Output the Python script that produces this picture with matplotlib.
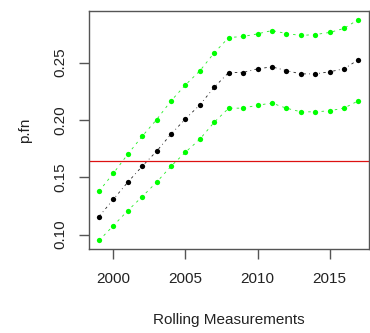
import matplotlib
matplotlib.use("Agg")
import matplotlib.pyplot as plt

years = list(range(1999, 2018))
mid = [0.1157, 0.1308, 0.1457, 0.1596, 0.1727, 0.1876, 0.2009, 0.2131, 0.2285, 0.2413,
       0.2413, 0.2445, 0.2462, 0.2430, 0.2401, 0.2401, 0.2419, 0.2445, 0.2524]
upper = [0.1378, 0.1535, 0.1701, 0.1858, 0.2003, 0.2166, 0.2305, 0.2428, 0.2585, 0.2718,
         0.2727, 0.2750, 0.2779, 0.2753, 0.2736, 0.2744, 0.2762, 0.2797, 0.2875]
lower = [0.0948, 0.1078, 0.1209, 0.1331, 0.1457, 0.1596, 0.1718, 0.1832, 0.1980, 0.2102,
         0.2102, 0.2128, 0.2146, 0.2102, 0.2070, 0.2070, 0.2079, 0.2102, 0.2166]
ref_level = 0.164
xticks = [2000, 2005, 2010, 2015]
yticks = [0.10, 0.15, 0.20, 0.25]
ytick_labels = ["0.10", "0.15", "0.20", "0.25"]

plt.rcParams['font.family'] = ['Liberation Sans', 'DejaVu Sans']

fig = plt.figure(figsize=(3.7, 3.33), dpi=100)
ax = fig.add_axes([0.2397, 0.2513, 0.9965 - 0.2397, 0.9679 - 0.2513])

ax.plot(years, upper, color='#22ee22', lw=0.6, ls=(0, (3, 5)))
ax.plot(years, lower, color='#22ee22', lw=0.6, ls=(0, (3, 5)))
ax.plot(years, mid, color='#222222', lw=0.6, ls=(0, (3, 4, 1, 4)))
ax.plot(years, upper, 'o', color='#00ff00', ms=3.8, mec='none')
ax.plot(years, lower, 'o', color='#00ff00', ms=3.8, mec='none')
ax.plot(years, mid, 'o', color='black', ms=3.8, mec='none')
ax.axhline(ref_level, color='#dd1111', lw=0.9)

span_x = years[-1] - years[0]
ax.set_xlim(years[0] - 0.04 * span_x, years[-1] + 0.04 * span_x)
lo, hi = min(lower), max(upper)
ax.set_ylim(lo - 0.04 * (hi - lo), hi + 0.04 * (hi - lo))

ax.set_xticks(xticks)
ax.set_xticklabels([str(t) for t in xticks])
ax.set_yticks(yticks)
ax.set_yticklabels(ytick_labels, rotation=90, va='center')

for s in ax.spines.values():
    s.set_color('#555555')
    s.set_linewidth(1.0)
ax.tick_params(direction='out', length=7, width=1.0, color='#555555',
               labelsize=11, labelcolor='#222222')
ax.tick_params(axis='x', pad=9)
ax.tick_params(axis='y', pad=8)

ax.set_xlabel('Rolling Measurements', fontsize=11, color='#222222', labelpad=20)
ax.set_ylabel('p.fn', fontsize=11, color='#222222', labelpad=16)

fig.savefig('out.png', dpi=100)
